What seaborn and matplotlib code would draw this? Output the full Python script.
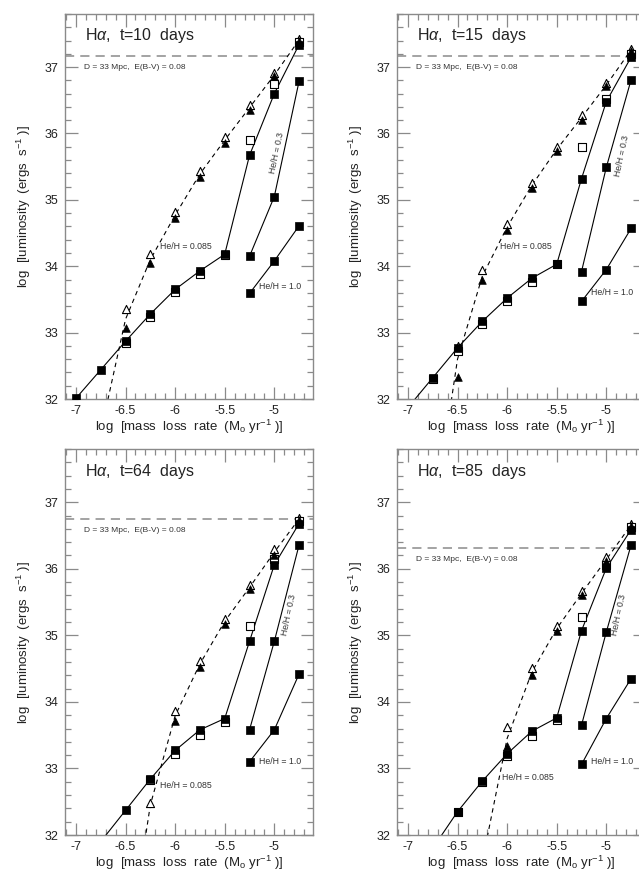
import numpy as np
import pandas as pd
import matplotlib
matplotlib.use("Agg")
import matplotlib.pyplot as plt
import seaborn as sns
from matplotlib.ticker import MultipleLocator, FixedLocator

# ---------------- data ----------------
EPOCHS = ["10", "15", "64", "85"]

# He/H = 0.085, filled squares (solid line)
sq_x = {
    "10": [-7.0, -6.75, -6.5, -6.25, -6.0, -5.75, -5.5, -5.25, -5.0, -4.75],
    "15": [-7.0, -6.75, -6.5, -6.25, -6.0, -5.75, -5.5, -5.25, -5.0, -4.75],
    "64": [-6.75, -6.5, -6.25, -6.0, -5.75, -5.5, -5.25, -5.0, -4.75],
    "85": [-6.75, -6.5, -6.25, -6.0, -5.75, -5.5, -5.25, -5.0, -4.75],
}
sq_y = {
    "10": [32.01, 32.44, 32.87, 33.28, 33.65, 33.93, 34.18, 35.67, 36.60, 37.34],
    "15": [31.87, 32.32, 32.77, 33.17, 33.52, 33.82, 34.03, 35.32, 36.48, 37.15],
    "64": [31.90, 32.37, 32.84, 33.27, 33.58, 33.75, 34.91, 36.06, 36.68],
    "85": [31.80, 32.35, 32.81, 33.22, 33.56, 33.76, 35.07, 36.01, 36.59],
}
# open squares
osq_x = {
    "10": [-6.5, -6.25, -6.0, -5.75, -5.5, -5.25, -5.0, -4.75],
    "15": [-6.75, -6.5, -6.25, -6.0, -5.75, -5.5, -5.25, -5.0, -4.75],
    "64": [-6.25, -6.0, -5.75, -5.5, -5.25, -5.0, -4.75],
    "85": [-6.5, -6.25, -6.0, -5.75, -5.5, -5.25, -5.0, -4.75],
}
osq_y = {
    "10": [32.84, 33.24, 33.61, 33.88, 34.17, 35.90, 36.75, 37.38],
    "15": [32.30, 32.73, 33.13, 33.48, 33.77, 34.03, 35.80, 36.52, 37.20],
    "64": [32.82, 33.22, 33.50, 33.70, 35.14, 36.14, 36.72],
    "85": [32.34, 32.79, 33.19, 33.49, 33.73, 35.28, 36.06, 36.63],
}
# He/H = 0.3 and He/H = 1.0
he_x = [-5.25, -5.0, -4.75]
he03_y = {"10": [34.15, 35.05, 36.79], "15": [33.92, 35.49, 36.81],
          "64": [33.58, 34.91, 36.36], "85": [33.65, 35.05, 36.36]}
he10_y = {"10": [33.59, 34.08, 34.61], "15": [33.47, 33.95, 34.57],
          "64": [33.10, 33.58, 34.42], "85": [33.06, 33.75, 34.35]}
# triangles
tri_x = {
    "10": [-6.5, -6.25, -6.0, -5.75, -5.5, -5.25, -5.0, -4.75],
    "15": [-6.5, -6.25, -6.0, -5.75, -5.5, -5.25, -5.0, -4.75],
    "64": [-6.25, -6.0, -5.75, -5.5, -5.25, -5.0, -4.75],
    "85": [-6.0, -5.75, -5.5, -5.25, -5.0, -4.75],
}
otri_y = {
    "10": [33.36, 34.18, 34.82, 35.43, 35.94, 36.43, 36.91, 37.43],
    "15": [32.80, 33.94, 34.64, 35.26, 35.79, 36.28, 36.76, 37.28],
    "64": [32.48, 33.87, 34.62, 35.25, 35.75, 36.30, 36.77],
    "85": [33.62, 34.51, 35.14, 35.66, 36.17, 36.68],
}
ftri_x = {
    "10": [-6.5, -6.25, -6.0, -5.75, -5.5, -5.25, -5.0, -4.75],
    "15": [-6.5, -6.25, -6.0, -5.75, -5.5, -5.25, -5.0, -4.75],
    "64": [-6.0, -5.75, -5.5, -5.25, -5.0, -4.75],
    "85": [-6.0, -5.75, -5.5, -5.25, -5.0, -4.75],
}
ftri_y = {
    "10": [33.07, 34.05, 34.72, 35.35, 35.86, 36.35, 36.86, 37.39],
    "15": [32.33, 33.79, 34.54, 35.18, 35.73, 36.20, 36.71, 37.24],
    "64": [33.71, 34.52, 35.17, 35.70, 36.20, 36.73],
    "85": [33.33, 34.40, 35.06, 35.61, 36.11, 36.64],
}
# dashed model curve
dash_x = {
    "10": [-6.75, -6.5, -6.25, -6.0, -5.75, -5.5, -5.25, -5.0, -4.75],
    "15": [-6.75, -6.5, -6.25, -6.0, -5.75, -5.5, -5.25, -5.0, -4.75],
    "64": [-6.5, -6.25, -6.0, -5.75, -5.5, -5.25, -5.0, -4.75],
    "85": [-6.25, -6.0, -5.75, -5.5, -5.25, -5.0, -4.75],
}
dash_y = {
    "10": [31.50, 33.20, 34.10, 34.77, 35.39, 35.90, 36.39, 36.88, 37.41],
    "15": [30.10, 32.60, 33.85, 34.59, 35.22, 35.76, 36.24, 36.73, 37.26],
    "64": [30.00, 32.45, 33.79, 34.57, 35.21, 35.72, 36.25, 36.75],
    "85": [31.60, 33.45, 34.45, 35.10, 35.63, 36.14, 36.66],
}
# detection limit (horizontal dashed line)
limit_y = {"10": 37.16, "15": 37.16, "64": 36.75, "85": 36.31}

# label positions (data coords)
lab085 = {"10": (-6.15, 34.3), "15": (-6.07, 34.3), "64": (-6.15, 32.74), "85": (-6.05, 32.86)}
lab10 = {"10": (-5.15, 33.7), "15": (-5.15, 33.6), "64": (-5.15, 33.1), "85": (-5.15, 33.1)}
lab03 = {"10": (-4.97, 35.71), "15": (-4.84, 35.66), "64": (-4.85, 35.31), "85": (-4.87, 35.31)}
dlab_y = {"10": 0.862, "15": 0.862, "64": 0.79, "85": 0.715}

xticks = [-7, -6.5, -6, -5.5, -5]
xticklabels = ["-7", "-6.5", "-6", "-5.5", "-5"]
yticks = [32, 33, 34, 35, 36, 37]

# ---------------- style ----------------
sns.set_style("ticks")
plt.rcParams['font.family'] = ['Liberation Sans', 'DejaVu Sans']
plt.rcParams['axes.unicode_minus'] = False
plt.rcParams['mathtext.fontset'] = 'custom'
plt.rcParams['mathtext.rm'] = 'Liberation Sans'
plt.rcParams['mathtext.it'] = 'Liberation Sans:italic'
plt.rcParams['mathtext.sf'] = 'Liberation Sans'

GRAY = "#8a8a8a"

fig = plt.figure(figsize=(6.39, 8.73), dpi=100)
positions = {
    "10": [65/639, (873-399)/873, 248/639, 385/873],
    "15": [397/639, (873-399)/873, 248/639, 385/873],
    "64": [65/639, (873-835)/873, 248/639, 386/873],
    "85": [397/639, (873-835)/873, 248/639, 386/873],
}

for ep in EPOCHS:
    ax = fig.add_axes(positions[ep])
    ax.set_xlim(-7.11, -4.61)
    ax.set_ylim(32.0, 37.8)

    # detection limit
    ax.axhline(limit_y[ep], color=GRAY, lw=1.1, dashes=(6, 4), zorder=1)

    # dashed model curve
    sns.lineplot(x=dash_x[ep], y=dash_y[ep], ax=ax, color="black", lw=0.8,
                 sort=False, estimator=None, zorder=2)
    ax.lines[-1].set_dashes((4, 3.5))

    # solid lines
    sns.lineplot(x=sq_x[ep], y=sq_y[ep], ax=ax, color="black", lw=0.8,
                 sort=False, estimator=None, zorder=2)
    sns.lineplot(x=he_x, y=he03_y[ep], ax=ax, color="black", lw=0.8,
                 sort=False, estimator=None, zorder=2)
    sns.lineplot(x=he_x, y=he10_y[ep], ax=ax, color="black", lw=0.8,
                 sort=False, estimator=None, zorder=2)

    # open markers then filled markers on top
    sns.scatterplot(x=tri_x[ep], y=otri_y[ep], ax=ax, marker="^", s=34,
                    color="white", edgecolor="black", linewidth=0.8, zorder=3)
    sns.scatterplot(x=ftri_x[ep], y=ftri_y[ep], ax=ax, marker="^", s=30,
                    color="black", edgecolor="black", linewidth=0.5, zorder=4)
    sns.scatterplot(x=osq_x[ep], y=osq_y[ep], ax=ax, marker="s", s=28,
                    color="white", edgecolor="black", linewidth=0.8, zorder=3)
    sns.scatterplot(x=sq_x[ep], y=sq_y[ep], ax=ax, marker="s", s=28,
                    color="black", edgecolor="black", linewidth=0.5, zorder=4)
    sns.scatterplot(x=he_x, y=he03_y[ep], ax=ax, marker="s", s=28,
                    color="black", edgecolor="black", linewidth=0.5, zorder=4)
    sns.scatterplot(x=he_x, y=he10_y[ep], ax=ax, marker="s", s=28,
                    color="black", edgecolor="black", linewidth=0.5, zorder=4)

    # texts
    ax.text(0.08, 0.943, r"H$\alpha$,  t=" + ep + "  days", transform=ax.transAxes,
            fontsize=11.5, va="center", ha="left", color="#222222")
    ax.text(0.075, dlab_y[ep], "D = 33 Mpc,  E(B-V) = 0.08", transform=ax.transAxes,
            fontsize=6, va="center", ha="left", color="#333333")
    ax.text(*lab085[ep], "He/H = 0.085", fontsize=6.3, va="center", ha="left", color="#333333")
    ax.text(*lab10[ep], "He/H = 1.0", fontsize=6.3, va="center", ha="left", color="#333333")
    ax.text(*lab03[ep], "He/H = 0.3", fontsize=6.3, va="center", ha="center",
            rotation=78, rotation_mode="anchor", color="#333333")

    # axes styling
    ax.xaxis.set_major_locator(FixedLocator(xticks))
    ax.set_xticklabels(xticklabels)
    ax.xaxis.set_minor_locator(MultipleLocator(0.1))
    ax.yaxis.set_major_locator(FixedLocator(yticks))
    ax.yaxis.set_minor_locator(MultipleLocator(0.2))
    ax.tick_params(which="both", direction="in", top=True, right=True,
                   color=GRAY, width=0.9, labelsize=9, labelcolor="#222222")
    ax.tick_params(which="major", length=9, pad=5)
    ax.tick_params(axis="x", which="major", pad=4)
    ax.tick_params(which="minor", length=4.5)
    for sp in ax.spines.values():
        sp.set_color(GRAY)
        sp.set_linewidth(1.0)
        sp.set_visible(True)
    ax.set_xlabel(r"log  [mass  loss  rate  (M$_{\rm o}$ yr$^{-1}$ )]", fontsize=9.5,
                  color="#222222", labelpad=1)
    ax.set_ylabel(r"log  [luminosity  (ergs  s$^{-1}$ )]", fontsize=9.5,
                  color="#222222", labelpad=8)

fig.savefig("out.png", dpi=100)
